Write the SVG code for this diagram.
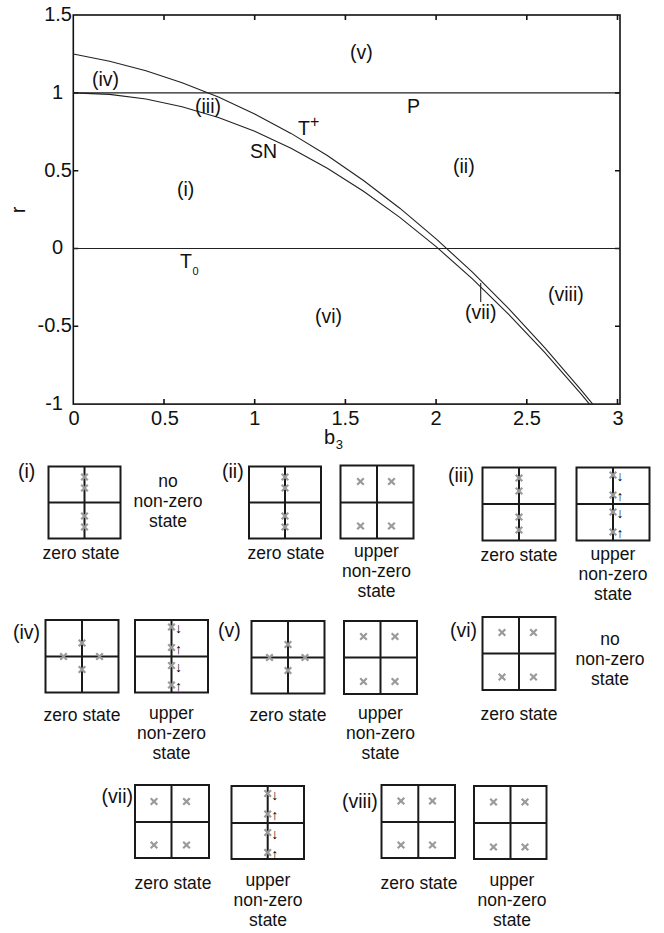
<svg xmlns="http://www.w3.org/2000/svg" xmlns:xlink="http://www.w3.org/1999/xlink" width="664" height="933" viewBox="0 0 664 933">
<style>
text{font-family:"Liberation Sans",Arial,sans-serif;fill:#111}
.tk{font-size:20px}
.lb{font-size:19.5px}
.st{font-size:17.5px;text-anchor:middle}
.ar{font-size:14px;fill:#000}
.ax{fill:none;stroke:#111;stroke-width:1.6}
.ln{fill:none;stroke:#222;stroke-width:1.1}
.box{fill:#fff;stroke:#1a1a1a;stroke-width:2}
.mk{stroke:#9a9a9a;stroke-width:2.2;fill:none}
</style>
<defs>
<path id="m" class="mk" d="M-3.3,-3.3L3.3,3.3M3.3,-3.3L-3.3,3.3"/>
</defs>
<rect width="664" height="933" fill="#fff"/>
<g id="plot">
<rect class="ax" x="73.3" y="15" width="546.7" height="389.1"/>
<path class="ax" d="M164,15v5M254.7,15v5M345.4,15v5M436.1,15v5M526.8,15v5M617.5,15v5M164,404.1v-5M254.7,404.1v-5M345.4,404.1v-5M436.1,404.1v-5M526.8,404.1v-5M617.5,404.1v-5M73.3,92.9h5M73.3,170.7h5M73.3,248.5h5M73.3,326.3h5M620,92.9h-5M620,170.7h-5M620,248.5h-5M620,326.3h-5"/>
<g class="tk" text-anchor="end">
<text x="72" y="21">1.5</text>
<text x="63" y="98.5">1</text>
<text x="72" y="176.5">0.5</text>
<text x="63" y="254">0</text>
<text x="72" y="332">-0.5</text>
<text x="63" y="410">-1</text>
</g>
<g class="tk" text-anchor="middle">
<text x="74" y="425">0</text>
<text x="165" y="425">0.5</text>
<text x="254.7" y="425">1</text>
<text x="345.4" y="425">1.5</text>
<text x="436.1" y="425">2</text>
<text x="527" y="425">2.5</text>
<text x="618" y="425">3</text>
</g>
<text class="tk" transform="translate(25,210) rotate(-90)" text-anchor="middle">r</text>
<text class="tk" x="324" y="444">b<tspan font-size="13" dx="0.5" dy="5">3</tspan></text>
</g>
<g id="curves">
<path class="ln" d="M73.3,92.9H620M73.3,248.5H620"/>
<path class="ln" d="M73.3,92.9L109.6,94.4L145.9,99L182.1,106.7L218.4,117.5L254.7,131.3L291,148.2L327.3,168.2L363.5,191.3L399.8,217.4L436.1,246.6L472.4,278.9L508.7,314.3L544.9,352.7L581.2,394.2L589.5,404.1"/>
<path class="ln" d="M73.3,54L109.6,61.3L145.9,70.8L182.1,82.7L218.4,97L254.7,113.9L291,133.4L327.3,155.5L363.5,180.5L399.8,208.2L436.1,238.8L472.4,272.2L508.7,308.6L544.9,347.9L581.2,390.1L592.7,404.1"/>
<path class="ln" d="M480.7,283V302" stroke-width="1.4"/>
</g>
<g id="plot-labels" class="lb">
<text x="92" y="86">(iv)</text>
<text x="195" y="113">(iii)</text>
<text x="298" y="135">T<tspan font-size="16" dy="-8">+</tspan></text>
<text x="250" y="158">SN</text>
<text x="177" y="196">(i)</text>
<text x="350" y="59">(v)</text>
<text x="407" y="112.5">P</text>
<text x="453" y="173">(ii)</text>
<text x="180" y="268">T<tspan font-size="11" dx="0.5" dy="7">0</tspan></text>
<text x="315" y="323">(vi)</text>
<text x="465" y="319">(vii)</text>
<text x="548" y="301">(viii)</text>
</g>

<g id="panel-i">
<text class="lb" x="18" y="478">(i)</text>
<rect class="box" x="48.5" y="466.5" width="72" height="72"/>
<path class="box" d="M84.5,466.5V538.5M48.5,502.5H120.5"/>
<use xlink:href="#m" x="84.5" y="477"/><use xlink:href="#m" x="84.5" y="488"/><use xlink:href="#m" x="84.5" y="516"/><use xlink:href="#m" x="84.5" y="527"/>
<text class="st" x="81" y="559">zero state</text>
<text class="st" x="168" y="487">no</text>
<text class="st" x="168" y="507">non-zero</text>
<text class="st" x="168" y="527">state</text>
</g>
<g id="panel-ii-zero">
<text class="lb" x="222" y="478">(ii)</text>
<rect class="box" x="249" y="466.5" width="72" height="72"/>
<path class="box" d="M285,466.5V538.5M249,502.5H321"/>
<use xlink:href="#m" x="285" y="477"/><use xlink:href="#m" x="285" y="488"/><use xlink:href="#m" x="285" y="516"/><use xlink:href="#m" x="285" y="527"/>
<text class="st" x="286" y="559">zero state</text>
</g>
<g id="panel-ii-upper">
<rect class="box" x="340.5" y="465.5" width="73" height="73"/>
<path class="box" d="M377,465.5V538.5M340.5,502.5H413.5"/>
<use xlink:href="#m" x="360.5" y="481.5"/><use xlink:href="#m" x="391.5" y="481.5"/><use xlink:href="#m" x="360.5" y="526"/><use xlink:href="#m" x="391.5" y="526"/>
<text class="st" x="376.5" y="557">upper</text>
<text class="st" x="376.5" y="577">non-zero</text>
<text class="st" x="376.5" y="597">state</text>
</g>
<g id="panel-iii-zero">
<text class="lb" x="448" y="482">(iii)</text>
<rect class="box" x="482.5" y="467.5" width="73" height="73"/>
<path class="box" d="M519,467.5V540.5M482.5,504H555.5"/>
<use xlink:href="#m" x="519" y="478"/><use xlink:href="#m" x="519" y="491"/><use xlink:href="#m" x="519" y="517"/><use xlink:href="#m" x="519" y="530"/>
<text class="st" x="519" y="561">zero state</text>
</g>
<g id="panel-iii-upper">
<rect class="box" x="576.5" y="467.5" width="73" height="73"/>
<path class="box" d="M613,467.5V540.5M576.5,504H649.5"/>
<use xlink:href="#m" x="613" y="475"/><use xlink:href="#m" x="613" y="495"/><use xlink:href="#m" x="613" y="512"/><use xlink:href="#m" x="613" y="532"/>
<text class="ar" x="616.5" y="481">↓</text><text class="ar" x="616.5" y="501">↑</text><text class="ar" x="616.5" y="518">↓</text><text class="ar" x="616.5" y="538">↑</text>
<text class="st" x="613" y="560">upper</text>
<text class="st" x="613" y="580">non-zero</text>
<text class="st" x="613" y="600">state</text>
</g>

<g id="panel-iv-zero">
<text class="lb" x="13" y="639">(iv)</text>
<rect class="box" x="45.5" y="620" width="73" height="72.5"/>
<path class="box" d="M82,620V692.5M45.5,656.5H118.5"/>
<use xlink:href="#m" x="82" y="643"/><use xlink:href="#m" x="63.5" y="656.5"/><use xlink:href="#m" x="99.5" y="656.5"/><use xlink:href="#m" x="82" y="669.5"/>
<text class="st" x="82" y="721">zero state</text>
</g>
<g id="panel-iv-upper">
<rect class="box" x="135" y="620" width="73" height="72.5"/>
<path class="box" d="M171.5,620V692.5M135,656.5H208"/>
<use xlink:href="#m" x="171.5" y="627"/><use xlink:href="#m" x="171.5" y="647.5"/><use xlink:href="#m" x="171.5" y="665.5"/><use xlink:href="#m" x="171.5" y="685"/>
<text class="ar" x="175" y="633">↓</text><text class="ar" x="175" y="653.5">↑</text><text class="ar" x="175" y="671.5">↓</text><text class="ar" x="175" y="691">↑</text>
<text class="st" x="171.5" y="719">upper</text>
<text class="st" x="171.5" y="739">non-zero</text>
<text class="st" x="171.5" y="759">state</text>
</g>
<g id="panel-v-zero">
<text class="lb" x="218" y="637">(v)</text>
<rect class="box" x="251.5" y="621" width="73" height="72.5"/>
<path class="box" d="M288,621V693.5M251.5,657.5H324.5"/>
<use xlink:href="#m" x="288" y="644.5"/><use xlink:href="#m" x="269.5" y="657.5"/><use xlink:href="#m" x="305" y="657.5"/><use xlink:href="#m" x="288" y="670.5"/>
<text class="st" x="288" y="721">zero state</text>
</g>
<g id="panel-v-upper">
<rect class="box" x="344" y="621" width="73" height="73"/>
<path class="box" d="M380.5,621V694M344,657.5H417"/>
<use xlink:href="#m" x="363.5" y="636.5"/><use xlink:href="#m" x="395" y="636.5"/><use xlink:href="#m" x="363.5" y="681.5"/><use xlink:href="#m" x="395" y="681.5"/>
<text class="st" x="380.5" y="719">upper</text>
<text class="st" x="380.5" y="739">non-zero</text>
<text class="st" x="380.5" y="759">state</text>
</g>
<g id="panel-vi">
<text class="lb" x="450" y="637">(vi)</text>
<rect class="box" x="482.5" y="617" width="73" height="73"/>
<path class="box" d="M519,617V690M482.5,653.5H555.5"/>
<use xlink:href="#m" x="502" y="632.5"/><use xlink:href="#m" x="533.5" y="632.5"/><use xlink:href="#m" x="502" y="677"/><use xlink:href="#m" x="533.5" y="677"/>
<text class="st" x="519" y="720">zero state</text>
<text class="st" x="610" y="645">no</text>
<text class="st" x="610" y="665">non-zero</text>
<text class="st" x="610" y="685">state</text>
</g>

<g id="panel-vii-zero">
<text class="lb" x="133" y="803" text-anchor="end">(vii)</text>
<rect class="box" x="135" y="785" width="74" height="73"/>
<path class="box" d="M171.5,785V858M135,822H209"/>
<use xlink:href="#m" x="154" y="801.5"/><use xlink:href="#m" x="186.5" y="801.5"/><use xlink:href="#m" x="154" y="845"/><use xlink:href="#m" x="186.5" y="845"/>
<text class="st" x="173" y="889">zero state</text>
</g>
<g id="panel-vii-upper">
<rect class="box" x="231.5" y="786" width="72.5" height="73"/>
<path class="box" d="M267.7,786V859M231.5,823H304"/>
<use xlink:href="#m" x="267.7" y="793.5"/><use xlink:href="#m" x="267.7" y="814"/><use xlink:href="#m" x="267.7" y="832.5"/><use xlink:href="#m" x="267.7" y="852.5"/>
<text class="ar" x="271.2" y="799.5">↓</text><text class="ar" x="271.2" y="820">↑</text><text class="ar" x="271.2" y="838.5">↓</text><text class="ar" x="271.2" y="858.5">↑</text>
<text class="st" x="268" y="886">upper</text>
<text class="st" x="268" y="906">non-zero</text>
<text class="st" x="268" y="926">state</text>
</g>
<g id="panel-viii-zero">
<text class="lb" x="342" y="808">(viii)</text>
<rect class="box" x="381.5" y="785" width="73.5" height="73"/>
<path class="box" d="M418.3,785V858M381.5,822H455"/>
<use xlink:href="#m" x="401" y="801"/><use xlink:href="#m" x="432.5" y="801"/><use xlink:href="#m" x="401" y="845"/><use xlink:href="#m" x="432.5" y="845"/>
<text class="st" x="419" y="889">zero state</text>
</g>
<g id="panel-viii-upper">
<rect class="box" x="474" y="786" width="72.5" height="73"/>
<path class="box" d="M510.5,786V859M474,823H546.5"/>
<use xlink:href="#m" x="493.5" y="802"/><use xlink:href="#m" x="525" y="802"/><use xlink:href="#m" x="493.5" y="847"/><use xlink:href="#m" x="525" y="847"/>
<text class="st" x="512" y="886">upper</text>
<text class="st" x="512" y="906">non-zero</text>
<text class="st" x="512" y="926">state</text>
</g>
</svg>
